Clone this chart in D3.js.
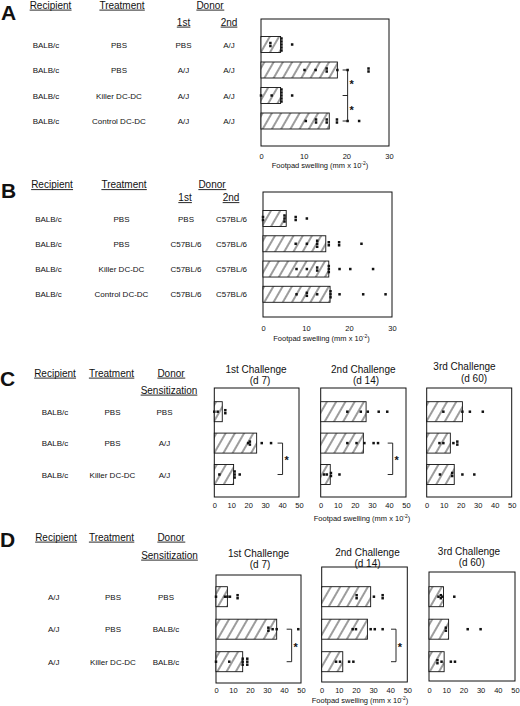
<!DOCTYPE html>
<html>
<head>
<meta charset="utf-8">
<script src="https://cdn.jsdelivr.net/npm/d3@7"></script>
<style>
  body { margin: 0; background: #fff; }
  text { font-family: "Liberation Sans", Arial, sans-serif; fill: #111; }
</style>
</head>
<body>
<div id="fig"></div>
<script>
// ---- panel A ----
const recipientA = ["BALB/c", "BALB/c", "BALB/c", "BALB/c"];
const treatmentA = ["PBS", "PBS", "Killer DC-DC", "Control DC-DC"];
const donor1stA = ["PBS", "A/J", "A/J", "A/J"];
const donor2ndA = ["A/J", "A/J", "A/J", "A/J"];
const swellingA = [4.6, 17.9, 4.6, 16];
const dotsA = [
  [2.2, 2.2, 4.8, 4.8, 4.8, 4.8, 4.8, 7.3],
  [10.2, 12.8, 15.4, 15.4, 17.9, 20.3, 25.2, 25.2],
  [0, 2.5, 4.8, 4.8, 4.8, 4.8, 4.8, 7.3],
  [10.5, 12.9, 12.9, 15.4, 15.4, 17.8, 17.8, 20.3, 23]
];
const sigA = [{ at: 20.3, rows: [1, 2, 3] }];

// ---- panel B ----
const recipientB = ["BALB/c", "BALB/c", "BALB/c", "BALB/c"];
const treatmentB = ["PBS", "PBS", "Killer DC-DC", "Control DC-DC"];
const donor1stB = ["PBS", "C57BL/6", "C57BL/6", "C57BL/6"];
const donor2ndB = ["C57BL/6", "C57BL/6", "C57BL/6", "C57BL/6"];
const swellingB = [5.4, 14.6, 15.3, 15.6];
const dotsB = [
  [0, 0, 5, 5, 5, 7.6, 7.6, 10.2],
  [7.6, 10.2, 12.6, 12.6, 12.6, 15.3, 15.3, 17.7, 17.7, 22.9],
  [7.8, 10.2, 12.6, 12.6, 15.3, 15.3, 15.3, 17.8, 20.3, 25.6],
  [7.8, 10.2, 10.2, 12.6, 15.7, 15.7, 15.7, 17.8, 23.3, 28.5]
];

const ticksAB = [0, 10, 20, 30];
const ticksCD = [0, 10, 20, 30, 40, 50];
const challenges = ["1st Challenge", "2nd Challenge", "3rd Challenge"];
const challengeDays = ["(d 7)", "(d 14)", "(d 60)"];

// ---- panel C ----
const recipientC = ["BALB/c", "BALB/c", "BALB/c"];
const treatmentC = ["PBS", "PBS", "Killer DC-DC"];
const donorC = ["PBS", "A/J", "A/J"];
const swellingC = [[4.7, 25, 11.4], [26.6, 25, 5.6], [21, 13.9, 16.2]];
const dotsC = [
  [[0, 2, 6.5, 6.5], [20, 21, 21, 28, 33.5], [3, 12, 12, 12, 15]],
  [[15.6, 23.5, 27.6, 34, 39], [15.6, 21, 25.6, 31, 33.6], [2, 3.6, 6, 6, 11]],
  [[9.8, 21, 25.4, 33], [7.5, 9.8, 15.7, 18, 18], [7.8, 15, 15, 21, 28]]
];
const sigC = [[{ at: 40.3, rows: [1, 2] }], [{ at: 42.2, rows: [1, 2] }], []];

// ---- panel D ----
const recipientD = ["A/J", "A/J", "A/J"];
const treatmentD = ["PBS", "PBS", "Killer DC-DC"];
const donorD = ["PBS", "BALB/c", "BALB/c"];
const swellingD = [[6.7, 35.7, 15.7], [28.6, 26.7, 12.3], [8.4, 11.4, 8.8]];
const dotsD = [
  [[0, 5.3, 6.7, 8.2, 12.7, 12.7], [30.8, 30.8, 33.3, 35.7, 48.4], [0, 7.8, 15.7, 15.7, 15.7, 18.4, 18.4, 18.4]],
  [[20.4, 20.4, 30.5, 35.6, 35.6], [18.1, 20, 28.6, 31, 35.6], [8.4, 10.7, 16, 18.5]],
  [[5.5, 6.9, 6.9, 7.8, 14.7], [9.8, 9.8, 22.5, 30], [4.9, 4.9, 7.3, 12.7, 15.1]]
];
const sigD = [[{ at: 44.5, rows: [1, 2] }], [{ at: 43.4, rows: [1, 2] }], []];

const W = 520, H = 706;
const svg = d3.select("#fig").append("svg").attr("width", W).attr("height", H);

// hatch fill for bars
const pat = svg.append("defs").append("pattern")
  .attr("id", "hatch")
  .attr("patternUnits", "userSpaceOnUse")
  .attr("width", 8).attr("height", 8)
  .attr("patternTransform", "rotate(30)");
pat.append("rect").attr("width", 8).attr("height", 8).attr("fill", "#fff");
pat.append("line").attr("x1", 4).attr("x2", 4).attr("y1", 0).attr("y2", 8)
  .attr("stroke", "#222").attr("stroke-width", 0.9);

function label(txt, x, y, size, opts = {}) {
  const t = svg.append("text")
    .attr("x", x).attr("y", y)
    .attr("text-anchor", opts.anchor || "middle")
    .attr("font-size", size)
    .attr("font-weight", opts.bold ? "bold" : null)
    .text(txt);
  if (opts.underline) {
    const b = t.node().getBBox();
    svg.append("line")
      .attr("x1", b.x).attr("x2", b.x + b.width)
      .attr("y1", y + 1.6).attr("y2", y + 1.6)
      .attr("stroke", "#111").attr("stroke-width", 0.9);
  }
  return t;
}

function axisTitle(x, y) {
  const t = svg.append("text").attr("x", x).attr("y", y)
    .attr("text-anchor", "middle").attr("font-size", 7.5);
  t.append("tspan").text("Footpad swelling (mm x 10");
  t.append("tspan").attr("font-size", 5).attr("dy", -3).text("-2");
  t.append("tspan").attr("dy", 3).text(")");
}

function drawChart(o) {
  const g = svg.append("g");
  const x = d3.scaleLinear().domain([0, o.max]).range([o.x0, o.x1]);
  const y = o.y;

  g.append("rect")
    .attr("x", o.x0).attr("y", o.y0)
    .attr("width", o.x1 - o.x0).attr("height", o.y1 - o.y0)
    .attr("fill", "none").attr("stroke", "#111").attr("stroke-width", 1);

  g.selectAll(".bar").data(o.means).join("rect")
    .attr("class", "bar")
    .attr("x", x(0))
    .attr("y", (d, i) => y(i) - o.bh / 2)
    .attr("width", d => x(d) - x(0))
    .attr("height", o.bh)
    .attr("fill", "url(#hatch)")
    .attr("stroke", "#111").attr("stroke-width", 0.9);

  // dots: repeated values stack vertically
  const pts = [];
  o.dots.forEach((arr, i) => {
    const cnt = d3.rollup(arr, v => v.length, v => v);
    const seen = new Map();
    arr.forEach(v => {
      const k = (seen.get(v) || 0);
      seen.set(v, k + 1);
      pts.push({ v, row: i, off: (k - (cnt.get(v) - 1) / 2) * 3 });
    });
  });
  g.selectAll(".dot").data(pts).join("rect")
    .attr("class", "dot")
    .attr("x", d => x(d.v) - 1.25)
    .attr("y", d => y(d.row) + d.off - 1.25)
    .attr("width", 2.5).attr("height", 2.5)
    .attr("fill", "#111");

  // significance brackets
  (o.sig || []).forEach(s => {
    const bx = x(s.at);
    const ys = s.rows.map(r => y(r));
    g.append("line").attr("x1", bx).attr("x2", bx)
      .attr("y1", d3.min(ys)).attr("y2", d3.max(ys))
      .attr("stroke", "#111").attr("stroke-width", 0.9);
    ys.forEach(yy => g.append("line")
      .attr("x1", bx - 5).attr("x2", bx).attr("y1", yy).attr("y2", yy)
      .attr("stroke", "#111").attr("stroke-width", 0.9));
    d3.pairs(ys).forEach(([a, b]) => g.append("text")
      .attr("x", bx + 4).attr("y", (a + b) / 2 + 5.5)
      .attr("text-anchor", "middle").attr("font-size", 11).attr("font-weight", "bold")
      .text("*"));
  });

  const ax = g.append("g")
    .attr("transform", `translate(0,${o.y1})`)
    .call(d3.axisBottom(x).tickValues(o.ticks).tickSize(0).tickPadding(o.tp));
  ax.select(".domain").remove();
  ax.selectAll("text")
    .attr("font-size", 7.5)
    .attr("font-family", '"Liberation Sans", Arial, sans-serif')
    .attr("fill", "#111");

  if (o.title) {
    label(o.title[0], o.tx, o.ty, 10);
    label(o.title[1], o.tx2, o.ty + 11.5, 10);
  }
}

// ================= A =================
label("A", 1, 20, 21, { bold: true, anchor: "start" });
label("Recipient", 50.5, 8.5, 10, { underline: true });
label("Treatment", 122, 8.5, 10, { underline: true });
label("Donor", 210, 8.5, 10, { underline: true });
label("1st", 183.5, 25.5, 10, { underline: true });
label("2nd", 229, 25.5, 10, { underline: true });
const yA = d3.scalePoint().domain(d3.range(4)).range([44.5, 121]);
recipientA.forEach((t, i) => label(t, 46, yA(i) + 3, 8));
treatmentA.forEach((t, i) => label(t, 119, yA(i) + 3, 8));
donor1stA.forEach((t, i) => label(t, 183.5, yA(i) + 3, 8));
donor2ndA.forEach((t, i) => label(t, 229, yA(i) + 3, 8));
drawChart({ x0: 261, x1: 389, y0: 19, y1: 146, max: 30, ticks: ticksAB, tp: 7.5,
  y: yA, bh: 16, means: swellingA, dots: dotsA, sig: sigA });
axisTitle(320, 167.5);

// ================= B =================
label("B", 1, 198, 21, { bold: true, anchor: "start" });
label("Recipient", 52, 188, 10, { underline: true });
label("Treatment", 124, 188, 10, { underline: true });
label("Donor", 212, 188, 10, { underline: true });
label("1st", 185, 201, 10, { underline: true });
label("2nd", 231, 201, 10, { underline: true });
const yB = d3.scalePoint().domain(d3.range(4)).range([218.5, 294.3]);
recipientB.forEach((t, i) => label(t, 48.5, yB(i) + 3, 8));
treatmentB.forEach((t, i) => label(t, 121.5, yB(i) + 3, 8));
donor1stB.forEach((t, i) => label(t, 186, yB(i) + 3, 8));
donor2ndB.forEach((t, i) => label(t, 231.5, yB(i) + 3, 8));
drawChart({ x0: 263, x1: 392, y0: 192, y1: 317, max: 30, ticks: ticksAB, tp: 8.5,
  y: yB, bh: 16, means: swellingB, dots: dotsB });
axisTitle(321.5, 340.5);

// ================= C =================
label("C", 0, 386, 21, { bold: true, anchor: "start" });
label("Recipient", 55, 376.5, 10, { underline: true });
label("Treatment", 111.5, 376.5, 10, { underline: true });
label("Donor", 171, 376.5, 10, { underline: true });
label("Sensitization", 169, 393.5, 10, { underline: true });
const yC = d3.scalePoint().domain(d3.range(3)).range([411.7, 474.5]);
recipientC.forEach((t, i) => label(t, 55, yC(i) + 3, 8));
treatmentC.forEach((t, i) => label(t, 112.5, yC(i) + 3, 8));
donorC.forEach((t, i) => label(t, 164.5, yC(i) + 3, 8));
const boxesC = [[214.3, 299], [320.7, 406], [426.7, 511.7]];
const titleC = [[256, 260, 372.5], [363.3, 366, 372.5], [464.5, 474, 370]];
boxesC.forEach((b, k) => drawChart({
  x0: b[0], x1: b[1], y0: 388, y1: 497, max: 50, ticks: ticksCD, tp: 6,
  y: yC, bh: 20, means: swellingC[k], dots: dotsC[k], sig: sigC[k],
  title: [challenges[k], challengeDays[k]], tx: titleC[k][0], tx2: titleC[k][1], ty: titleC[k][2]
}));
axisTitle(362, 521);

// ================= D =================
label("D", 0, 547, 21, { bold: true, anchor: "start" });
label("Recipient", 56, 540.5, 10, { underline: true });
label("Treatment", 111.5, 540.5, 10, { underline: true });
label("Donor", 171, 540.5, 10, { underline: true });
label("Sensitization", 169.5, 558.5, 10, { underline: true });
const yD = d3.scalePoint().domain(d3.range(3)).range([596.7, 661.7]);
recipientD.forEach((t, i) => label(t, 53.7, yD(i) + 3, 8));
treatmentD.forEach((t, i) => label(t, 113, yD(i) + 3, 8));
donorD.forEach((t, i) => label(t, 166, yD(i) + 3, 8));
const boxesD = [[216, 301, 575, 683], [321.7, 407.3, 567, 682], [429, 515, 572, 681]];
const titleD = [[258.5, 260, 556.5], [367.5, 367.5, 555.5], [469, 471.7, 554.5]];
boxesD.forEach((b, k) => drawChart({
  x0: b[0], x1: b[1], y0: b[2], y1: b[3], max: 50, ticks: ticksCD, tp: 5.5 - (b[3] - 682),
  y: yD, bh: 20, means: swellingD[k], dots: dotsD[k], sig: sigD[k],
  title: [challenges[k], challengeDays[k]], tx: titleD[k][0], tx2: titleD[k][1], ty: titleD[k][2]
}));
axisTitle(360, 703);
</script>
</body>
</html>
